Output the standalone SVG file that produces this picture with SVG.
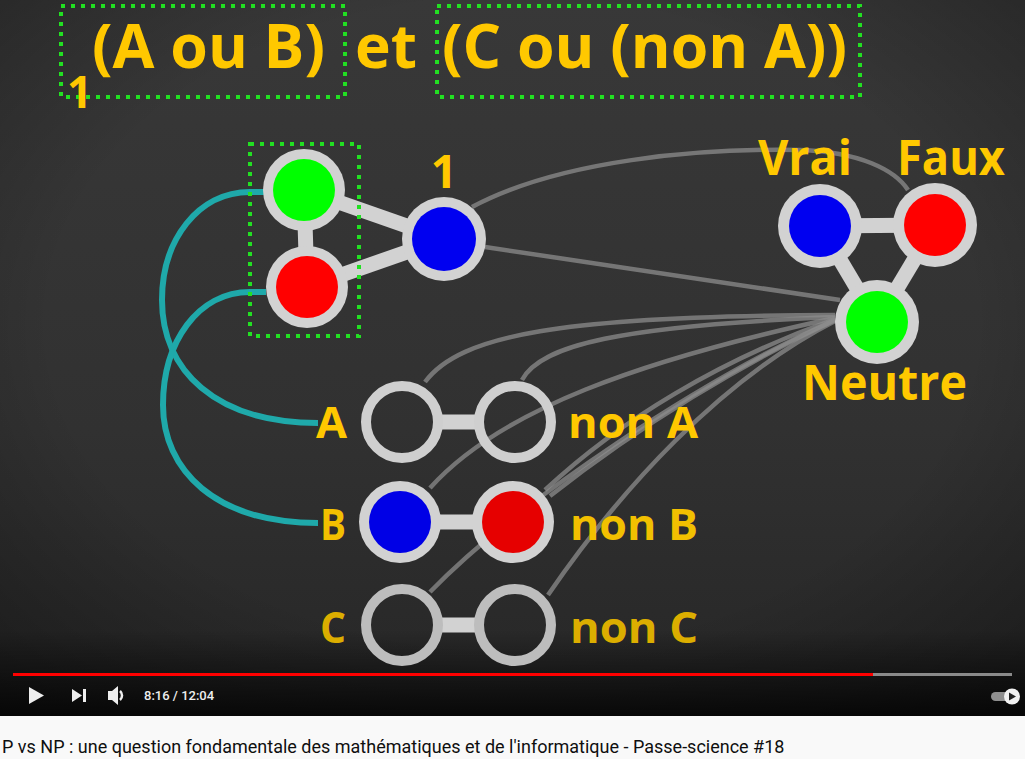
<svg xmlns="http://www.w3.org/2000/svg" width="1025" height="759" viewBox="0 0 1025 759">
<defs>
<linearGradient id="bg" x1="0" y1="0" x2="0" y2="1">
<stop offset="0" stop-color="#383838"/>
<stop offset="0.6" stop-color="#313131"/>
<stop offset="1" stop-color="#262626"/>
</linearGradient>
<linearGradient id="ctl" x1="0" y1="0" x2="0" y2="1">
<stop offset="0" stop-color="#000" stop-opacity="0"/>
<stop offset="1" stop-color="#000" stop-opacity="0.75"/>
</linearGradient>
<radialGradient id="vig" cx="0.5" cy="0.45" r="0.75">
<stop offset="0.6" stop-color="#000" stop-opacity="0"/>
<stop offset="1" stop-color="#000" stop-opacity="0.35"/>
</radialGradient>
</defs>
<style>
.t{font-family:"Open Sans","Liberation Sans",sans-serif;font-weight:bold;fill:#ffc800}
.dot{fill:none;stroke:#22e022;stroke-width:4;stroke-dasharray:4 6}
.ring{fill:#d2d2d2}
.hole{fill:none;stroke:#cfcfcf;stroke-width:10}
.holed{fill:none;stroke:#bdbdbd;stroke-width:10}
.edge{stroke:#d2d2d2;stroke-width:15;stroke-linecap:butt}
.teal{fill:none;stroke:#1fa9aa;stroke-width:6}
.gl{fill:none;stroke:#8c8c8c;stroke-width:4.5;stroke-opacity:0.75}
.ui{font-family:Roboto,"Liberation Sans",sans-serif}
</style>
<rect x="0" y="0" width="1025" height="716" fill="url(#bg)"/>
<rect x="0" y="0" width="1025" height="716" fill="url(#vig)"/>
<rect x="0" y="630" width="1025" height="86" fill="url(#ctl)"/>

<g id="formula">
<rect class="dot" x="61" y="6" width="284" height="91"/>
<rect class="dot" x="437" y="6" width="423" height="91"/>
<text class="t" x="92" y="68" font-size="60" textLength="233" lengthAdjust="spacingAndGlyphs">(A ou B)</text>
<text class="t" x="355" y="68" font-size="60" textLength="62" lengthAdjust="spacingAndGlyphs">et</text>
<text class="t" x="442" y="68" font-size="60" textLength="405" lengthAdjust="spacingAndGlyphs">(C ou (non A))</text>
<text class="t" x="67" y="108" font-size="44">1</text>
</g>

<g id="connectors">
<path class="teal" d="M265,192 H250 C198,192 162,240 162,300 C162,370 215,423 318,423"/>
<path class="teal" d="M266,292 H250 C198,292 163,342 163,405 C163,470 215,523 318,523"/>
<path class="gl" d="M472,207 C560,160 700,148 800,150 C860,152 895,170 908,190"/>
<path class="gl" d="M485,247 L840,300"/>
<path class="gl" d="M425,382 C460,335 560,316 835,315"/>
<path class="gl" d="M522,380 C540,345 620,326 835,317"/>
<path class="gl" d="M430,488 C500,410 640,360 835,318"/>
<path class="gl" d="M545,490 C620,420 720,360 835,319"/>
<path class="gl" d="M430,592 C520,500 700,380 835,320"/>
<path class="gl" d="M550,496 C640,425 745,362 835,320"/>
<path class="gl" d="M548,595 C620,490 720,380 835,321"/>
<line class="edge" x1="304" y1="190" x2="307" y2="287"/>
<line class="edge" x1="304" y1="190" x2="444" y2="239" stroke-width="17"/>
<line class="edge" x1="307" y1="287" x2="444" y2="239" stroke-width="17"/>
<line class="edge" x1="820" y1="226" x2="935" y2="225"/>
<line class="edge" x1="820" y1="226" x2="877" y2="322"/>
<line class="edge" x1="935" y1="225" x2="877" y2="322"/>
<line class="edge" x1="436" y1="422" x2="481" y2="422"/>
<line class="edge" x1="400" y1="522" x2="513" y2="522"/>
<line class="edge" x1="436" y1="625" x2="481" y2="625" stroke="#c2c2c2"/>
</g>

<g id="clause1">
<rect class="dot" x="250" y="144" width="109" height="192"/>
<circle class="ring" cx="304" cy="190" r="41"/>
<circle cx="304" cy="190" r="31" fill="#00ff00"/>
<circle class="ring" cx="307" cy="287" r="41"/>
<circle cx="307" cy="287" r="31" fill="#ff0000"/>
</g>
<g id="node-1">
<circle class="ring" cx="444" cy="239" r="42"/>
<circle cx="444" cy="239" r="32" fill="#0000f0"/>
<text class="t" x="444" y="188" font-size="46" text-anchor="middle">1</text>
</g>
<g id="palette">
<circle class="ring" cx="820" cy="226" r="42"/>
<circle cx="820" cy="226" r="31" fill="#0000f0"/>
<circle class="ring" cx="935" cy="225" r="42"/>
<circle cx="935" cy="225" r="31" fill="#ff0000"/>
<circle class="ring" cx="877" cy="322" r="42"/>
<circle cx="877" cy="322" r="31" fill="#00ff00"/>
<text class="t" x="758" y="175" font-size="48" textLength="94" lengthAdjust="spacingAndGlyphs">Vrai</text>
<text class="t" x="897" y="175" font-size="48" textLength="108" lengthAdjust="spacingAndGlyphs">Faux</text>
<text class="t" x="802" y="400" font-size="48" textLength="165" lengthAdjust="spacingAndGlyphs">Neutre</text>
</g>
<g id="var-A">
<circle class="hole" cx="402" cy="422" r="36"/>
<circle class="hole" cx="515" cy="422" r="36"/>
<text class="t" x="316" y="438" font-size="43" textLength="31" lengthAdjust="spacingAndGlyphs">A</text>
<text class="t" x="568" y="438" font-size="43" textLength="130" lengthAdjust="spacingAndGlyphs">non A</text>
</g>
<g id="var-B">
<circle class="ring" cx="400" cy="522" r="41"/>
<circle cx="400" cy="522" r="31" fill="#0000e6"/>
<circle class="ring" cx="513" cy="522" r="41"/>
<circle cx="513" cy="522" r="31" fill="#e60000"/>
<text class="t" x="320" y="540" font-size="43" textLength="26" lengthAdjust="spacingAndGlyphs" style="fill:#f2c000">B</text>
<text class="t" x="570" y="540" font-size="43" textLength="128" lengthAdjust="spacingAndGlyphs" style="fill:#f2c000">non B</text>
</g>
<g id="var-C">
<circle class="holed" cx="402" cy="625" r="36"/>
<circle class="holed" cx="515" cy="625" r="36"/>
<text class="t" x="320" y="643" font-size="43" textLength="26" lengthAdjust="spacingAndGlyphs" style="fill:#dcae00">C</text>
<text class="t" x="570" y="643" font-size="43" textLength="128" lengthAdjust="spacingAndGlyphs" style="fill:#dcae00">non C</text>
</g>

<g id="player">
<rect x="13" y="673" width="860" height="3" fill="#ff0000"/>
<rect x="873" y="673" width="139" height="3" fill="#8a8a8a"/>
<polygon points="29,687 44,695.5 29,704" fill="#eeeeee"/>
<polygon points="72,689 82,695.5 72,702" fill="#eeeeee"/>
<rect x="83" y="689" width="3" height="13" fill="#eeeeee"/>
<polygon points="108,691 112,691 118,686 118,705 112,700 108,700" fill="#eeeeee"/>
<path d="M120,691 A6,6 0 0 1 120,700" fill="none" stroke="#eeeeee" stroke-width="2.5"/>
<text class="ui" x="144" y="700" font-size="13" font-weight="500" fill="#eeeeee">8:16 / 12:04</text>
<rect x="991" y="692" width="22" height="9" rx="4.5" fill="#8f8f8f"/>
<circle cx="1012" cy="696.5" r="8" fill="#f2f2f2"/>
<polygon points="1009,692.5 1016,696.5 1009,700.5" fill="#222222"/>
</g>

<g id="caption">
<rect x="0" y="716" width="1025" height="43" fill="#f9f9f9"/>
<text class="ui" x="2" y="753" font-size="18" fill="#0f0f0f">P vs NP : une question fondamentale des mathématiques et de l'informatique - Passe-science #18</text>
</g>
</svg>
